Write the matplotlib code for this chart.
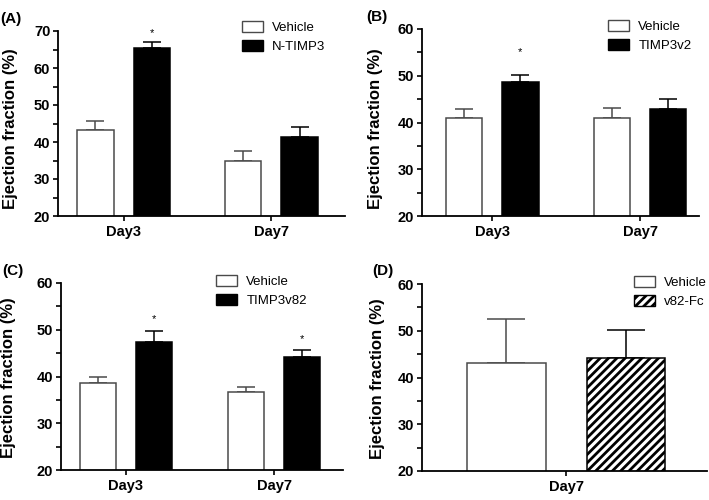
import numpy as np
import matplotlib
matplotlib.use("Agg")
import matplotlib.pyplot as plt
from matplotlib.ticker import MultipleLocator
from matplotlib.patches import Patch

plt.rcParams["font.family"] = ["Liberation Sans", "DejaVu Sans"]
plt.rcParams["hatch.linewidth"] = 2.0

# ---------- data ----------
days = ["Day3", "Day7"]

a_veh = [43.2, 34.9]; a_veh_err = [2.4, 2.8]
a_trt = [65.3, 41.4]; a_trt_err = [1.6, 2.7]
a_stars = [69.4, None]

b_veh = [40.9, 40.9]; b_veh_err = [2.0, 2.3]
b_trt = [48.6, 42.9]; b_trt_err = [1.5, 2.2]
b_stars = [55.0, None]

c_veh = [38.7, 36.7]; c_veh_err = [1.3, 1.1]
c_trt = [47.4, 44.1]; c_trt_err = [2.3, 1.5]
c_stars = [52.2, 47.9]

d_days = ["Day7"]
d_veh = [43.1]; d_veh_err = [9.5]
d_trt = [44.1]; d_trt_err = [6.1]

W, H = 709, 500
fig = plt.figure(figsize=(W / 100, H / 100), dpi=100)

VEH_EC = "#4a4a4a"


def px_axes(l, r, t, b):
    # pixel box -> figure fraction axes
    return fig.add_axes([l / W, (H - b) / H, (r - l) / W, (b - t) / H])


def panel(ax, cats, veh, veh_err, trt, trt_err, ylim, xlim,
          width, off, capsize, hatch=None, stars=None):
    x = np.arange(len(cats))
    ax.bar(x - off, veh, width, color="white", edgecolor=VEH_EC, lw=1.1, zorder=2)
    if hatch:
        ax.bar(x + off, trt, width, color="white", edgecolor="black", lw=1.1,
               hatch=hatch, zorder=2)
    else:
        ax.bar(x + off, trt, width, color="black", edgecolor="black", lw=1.1, zorder=2)
    ax.errorbar(x - off, veh, yerr=[np.zeros(len(x)), veh_err], fmt="none",
                ecolor=VEH_EC, elinewidth=1.1, capsize=capsize, capthick=1.1, zorder=1)
    ax.errorbar(x + off, trt, yerr=[np.zeros(len(x)), trt_err], fmt="none",
                ecolor="black", elinewidth=1.1, capsize=capsize, capthick=1.1, zorder=1)
    if stars:
        for xi, s in zip(x, stars):
            if s is not None:
                ax.text(xi + off, s, "*", ha="center", va="center", fontsize=8)
    ax.set_ylim(*ylim)
    ax.set_xlim(*xlim)
    ax.set_xticks(x)
    ax.set_xticklabels(cats, fontsize=10.5, fontweight="bold")
    ax.yaxis.set_major_locator(MultipleLocator(10))
    ax.yaxis.set_minor_locator(MultipleLocator(5))
    for lab in ax.get_yticklabels():
        lab.set_fontweight("bold")
        lab.set_fontsize(10.5)
    ax.tick_params(axis="both", which="both", direction="out", width=1.2, color="black")
    ax.tick_params(axis="y", which="major", length=3.5, pad=2)
    ax.tick_params(axis="y", which="minor", length=3.5)
    ax.tick_params(axis="x", which="major", length=3.5, pad=3)
    ax.tick_params(axis="x", which="minor", length=0)
    for s in ["top", "right"]:
        ax.spines[s].set_visible(False)
    for s in ["left", "bottom"]:
        ax.spines[s].set_linewidth(1.3)
    ax.set_facecolor("none")
    return ax


def add_legend(ax, trt_label, x0, y0, hatch=None):
    handles = [Patch(facecolor="white", edgecolor=VEH_EC, lw=1.0, label="Vehicle")]
    if hatch:
        handles.append(Patch(facecolor="white", edgecolor="black", lw=1.0, hatch=hatch,
                             label=trt_label))
    else:
        handles.append(Patch(facecolor="black", edgecolor="black", lw=1.0, label=trt_label))
    ax.legend(handles=handles, loc="upper left",
              bbox_to_anchor=(x0 / W, (H - y0) / H), bbox_transform=fig.transFigure,
              frameon=False, fontsize=9.5, handlelength=1.6, handleheight=0.9,
              handletextpad=0.7, labelspacing=0.45, borderpad=0, borderaxespad=0)


# (A)
axA = px_axes(58, 345, 31, 216)
panel(axA, days, a_veh, a_veh_err, a_trt, a_trt_err, (20, 70),
      (-0.443, 1.497), 0.245, 0.19, 6.5, stars=a_stars)
add_legend(axA, "N-TIMP3", 242, 21)

# (B)
axB = px_axes(422, 699, 29, 216)
panel(axB, days, b_veh, b_veh_err, b_trt, b_trt_err, (20, 60),
      (-0.475, 1.397), 0.245, 0.19, 6.5, stars=b_stars)
add_legend(axB, "TIMP3v2", 608, 20)

# (C)
axC = px_axes(61, 343, 283, 470)
panel(axC, days, c_veh, c_veh_err, c_trt, c_trt_err, (20, 60),
      (-0.439, 1.466), 0.245, 0.19, 6.5, stars=c_stars)
add_legend(axC, "TIMP3v82", 216, 275)

# (D)
axD = px_axes(422, 707, 284, 471)
panel(axD, d_days, d_veh, d_veh_err, d_trt, d_trt_err, (20, 60),
      (-0.975, 0.951), 0.53, 0.405, 14, hatch="////")
add_legend(axD, "v82-Fc", 634, 276, hatch="////")

# y labels and panel tags
for (xc, yc) in [(11, 129), (376, 129), (9, 378), (378, 379)]:
    fig.text(xc / W, 1 - yc / H, "Ejection fraction (%)", rotation=90,
             ha="center", va="center", fontsize=12, fontweight="bold")

for tag, (xl, yc) in zip(["(A)", "(B)", "(C)", "(D)"],
                         [(0, 19), (366, 17), (2, 271), (372, 271)]):
    fig.text(xl / W, 1 - yc / H, tag, ha="left", va="center",
             fontsize=11, fontweight="bold")

fig.savefig("out.png", dpi=100)
